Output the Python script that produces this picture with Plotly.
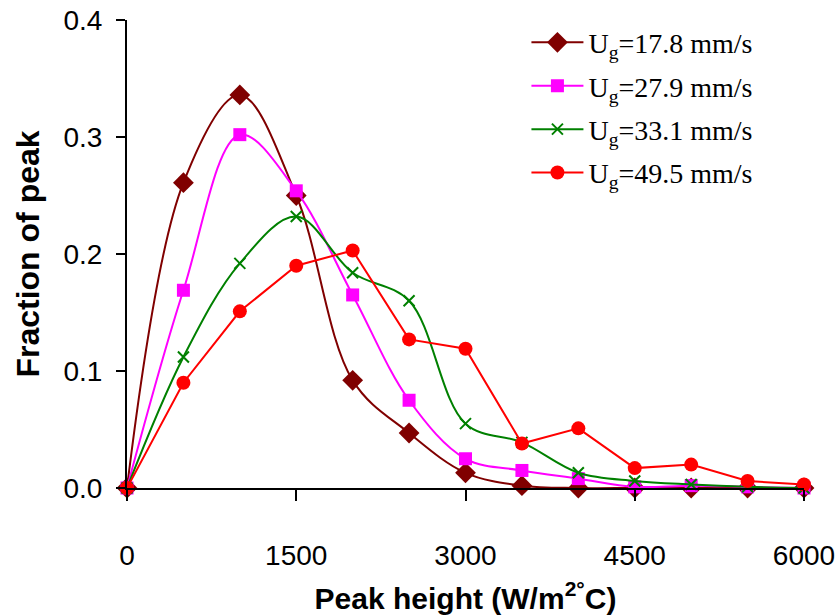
import plotly.graph_objects as go

peak_height = [0, 500, 1000, 1500, 2000, 2500, 3000, 3500, 4000, 4500, 5000, 5500, 6000]
ug_17_8 = [0.0, 0.261, 0.336, 0.250, 0.092, 0.047, 0.013, 0.002, 0.000, 0.000, 0.000, 0.000, 0.000]
ug_27_9 = [0.0, 0.169, 0.302, 0.254, 0.165, 0.075, 0.025, 0.015, 0.008, 0.001, 0.002, 0.001, 0.000]
ug_33_1 = [0.0, 0.112, 0.192, 0.232, 0.184, 0.160, 0.055, 0.039, 0.013, 0.006, 0.003, 0.001, 0.000]
ug_49_5 = [0.0, 0.090, 0.151, 0.190, 0.203, 0.127, 0.119, 0.038, 0.051, 0.017, 0.020, 0.006, 0.003]

series_names = ["U<sub>g</sub>=17.8 mm/s", "U<sub>g</sub>=27.9 mm/s",
                "U<sub>g</sub>=33.1 mm/s", "U<sub>g</sub>=49.5 mm/s"]
x_ticks = [0, 1500, 3000, 4500, 6000]
y_ticks = [0.0, 0.1, 0.2, 0.3, 0.4]

fig = go.Figure()

styles = [
    dict(color="#800000", symbol="diamond", size=16, shape="spline", mline=0),
    dict(color="#FF00FF", symbol="square", size=13, shape="spline", mline=0),
    dict(color="#008000", symbol="x-thin", size=11, shape="spline", mline=2),
    dict(color="#FF0000", symbol="circle", size=14, shape="linear", mline=0),
]
data = [ug_17_8, ug_27_9, ug_33_1, ug_49_5]

for i, (name, y, st) in enumerate(zip(series_names, data, styles)):
    line = dict(color=st["color"], width=2, shape=st["shape"])
    if st["shape"] == "spline":
        line["smoothing"] = 1.0
    fig.add_trace(go.Scatter(
        x=peak_height, y=y, name=name, mode="lines+markers",
        legendgroup=f"g{i}",
        line=line,
        marker=dict(symbol=st["symbol"], size=st["size"], color=st["color"],
                    line=dict(width=st["mline"], color=st["color"])),
        cliponaxis=False,
    ))

fig.update_layout(
    width=835, height=615,
    margin=dict(l=127, r=31, t=20, b=127),
    paper_bgcolor="white", plot_bgcolor="white",
    font=dict(family="Liberation Sans, Arial, sans-serif", color="black", size=28),
    showlegend=True,
    legend=dict(
        x=0.59, y=1.005, xanchor="left", yanchor="top",
        itemwidth=52,
        font=dict(family="Liberation Serif, Times New Roman, serif", size=28, color="black"),
        bgcolor="rgba(0,0,0,0)", tracegroupgap=4,
    ),
    xaxis=dict(
        range=[0, 6000], tickvals=x_ticks, ticktext=[str(v) for v in x_ticks],
        showgrid=False, zeroline=False, showline=True, linecolor="black", linewidth=2,
        ticks="outside", ticklen=11, tickwidth=2, tickcolor="black",
        ticklabelstandoff=30, ticklabeloverflow="allow",
        automargin=False,
        tickfont=dict(size=28),
        title=dict(text="<b>Peak height (W/m<sup>2</sup><sup>°</sup>C)</b>",
                   font=dict(size=30), standoff=22),
    ),
    yaxis=dict(
        range=[0, 0.4], tickvals=y_ticks, ticktext=[f"{v:.1f}" for v in y_ticks],
        showgrid=False, zeroline=False, showline=True, linecolor="black", linewidth=2,
        ticks="outside", ticklen=9, tickwidth=2, tickcolor="black",
        ticklabelstandoff=8, automargin=False,
        tickfont=dict(size=28),
        title=dict(text="<b>Fraction of peak</b>", font=dict(size=32), standoff=14),
    ),
)

fig.write_html("out.html")
